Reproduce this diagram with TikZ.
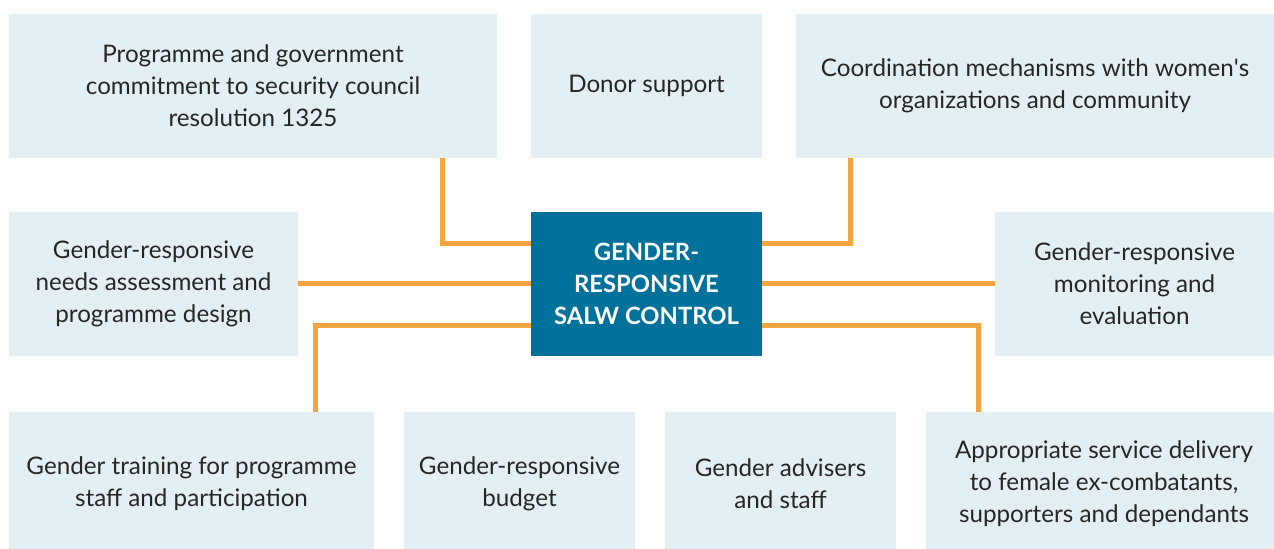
\documentclass[tikz,border=0pt]{standalone}
\usepackage{fontspec}
\setmainfont{Lato}
\usepackage{tikz}
\usetikzlibrary{positioning}

\definecolor{boxfill}{HTML}{E4EFF4}
\definecolor{corefill}{HTML}{00719A}
\definecolor{linkcol}{HTML}{F2A541}

\begin{document}
\begin{tikzpicture}[x=0.5pt,y=-0.5pt]
		\tikzstyle{Box} 	= [rectangle, fill=boxfill, align=center, inner sep=0pt, text=black!85, font=\fontsize{12.1}{16}\selectfont]
		\tikzstyle{Top}		= [minimum height=72pt]
		\tikzstyle{Low}		= [minimum height=72pt]
		\tikzstyle{Core}	= [rectangle, fill=corefill, align=center, text=white, minimum width=115.5pt, minimum height=72pt, font=\fontsize{11.9}{16}\selectfont\bfseries]
		\tikzstyle{Link}	= [draw=linkcol, line width=2.5pt]

		\clip (0,0) rectangle (1274,549);

		% top row
		\node (commit) at (253, 86) [Box][Top, minimum width=244pt] {Programme and government\\commitment to security council\\resolution 1325};
		\node (donor) at (646.5, 86) [Box][Top, minimum width=115.5pt] {Donor support};
		\node (coord) at (1035, 86) [Box][Top, minimum width=239pt] {Coordination mechanisms with women\textquotesingle s\\organizations and community};

		% middle row
		\node (needs) at (153.5, 284) [Box][minimum width=144.5pt, minimum height=72pt] {Gender-responsive\\needs assessment and\\programme design};
		\node (salw) at (646.5, 284) [Core] {GENDER-\\RESPONSIVE\\SALW CONTROL};
		\node (monitor) at (1134.5, 284) [Box][minimum width=139.5pt, minimum height=72pt] {Gender-responsive\\monitoring and\\evaluation};

		% bottom row
		\node (train) at (191.5, 484) [Box][Low, minimum width=182.5pt] {Gender training for programme\\staff and participation};
		\node (budget) at (519.5, 484) [Box][Low, minimum width=115.5pt] {Gender-responsive\\budget};
		\node (advise) at (780.5, 484) [Box][Low, minimum width=115.5pt] {Gender advisers\\and staff};
		\node (deliver) at (1104, 484) [Box][Low, minimum width=178pt] {Appropriate service delivery\\to female ex-combatants,\\supporters and dependants};

		\draw [Link] ([xshift=94.75pt]commit.south) |- ([yshift=20.25pt]salw.west);
		\draw [Link] ([xshift=-92.25pt]coord.south) |- ([yshift=20.25pt]salw.east);
		\draw [Link] (needs.east) -- (salw.west);
		\draw [Link] (salw.east) -- (monitor.west);
		\draw [Link] ([yshift=-21pt]salw.west) -| ([xshift=61.75pt]train.north);
		\draw [Link] ([yshift=-21pt]salw.east) -| ([xshift=-63pt]deliver.north);
	\end{tikzpicture}
\end{document}
